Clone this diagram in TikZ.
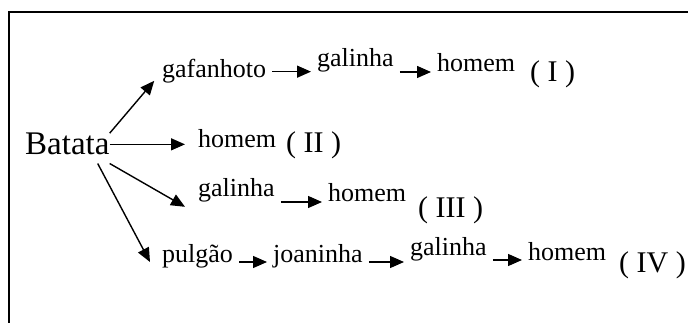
\documentclass[tikz,border=0pt]{standalone}
\usepackage{fontspec}
\setmainfont{Liberation Serif}
\usetikzlibrary{arrows.meta}

\begin{document}
\begin{tikzpicture}[
  x=1pt, y=-1pt,
  every node/.style={inner sep=0pt, anchor=base west, font=\fontsize{26}{30}\selectfont},
  root/.style={font=\fontsize{33}{38}\selectfont},
  num/.style={font=\fontsize{30}{34}\selectfont},
  >={Triangle[length=14pt,width=12pt]},
  link/.style={draw, ->, line width=1.4pt, shorten <=6pt, shorten >=6pt}
]
\useasboundingbox (0,0) rectangle (688,323);
\draw[line width=2pt] (9,323) |- (688,12);

\node[root] (bat) at (25,155) {Batata};
% cadeia I
\node (gaf) at (162,78) {gafanhoto};
\node (gal1) at (317,67) {galinha};
\node (hom1) at (437,72) {homem};
\node[num] (n1) at (530,82) {( I )};
% cadeia II
\node (hom2) at (198,148) {homem};
\node[num] (n2) at (286,153) {( II )};
% cadeia III
\node (gal3) at (198,197) {galinha};
\node (hom3) at (328,202) {homem};
\node[num] (n3) at (418,218) {( III )};
% cadeia IV
\node (pul) at (162,262) {pulgão};
\node (joa) at (273,262) {joaninha};
\node (gal4) at (410,255) {galinha};
\node (hom4) at (528,260) {homem};
\node[num] (n4) at (619,272) {( IV )};

% ramos a partir da batata
\draw[link, shorten <=0pt, shorten >=12pt] (bat.north east) -- (gaf.west);
\draw[link, shorten <=0pt, shorten >=13pt] (bat.east) -- (bat.east -| hom2.west);
\draw[link, shorten <=0pt, shorten >=0pt] ([yshift=-8pt]bat.south east) -- ([xshift=-13pt,yshift=-4pt]gal3.south west);
\draw[link, shorten <=0pt, shorten >=0pt] ([xshift=-12pt,yshift=-8pt]bat.south east) -- ([xshift=-12pt]pul.base west);

% setas dentro das cadeias
\draw[link] (gaf.east) -- (gaf.east -| gal1.west);
\draw[link] (gal1.east |- hom1.base) -- (hom1.base west);
\draw[link] (gal3.east |- hom3.base) -- (hom3.base west);
\draw[link] (pul.base east) -- (pul.base east -| joa.west);
\draw[link] (joa.base east) -- (joa.base east -| gal4.west);
\draw[link] (gal4.east |- hom4.base) -- (hom4.base west);
\end{tikzpicture}
\end{document}
